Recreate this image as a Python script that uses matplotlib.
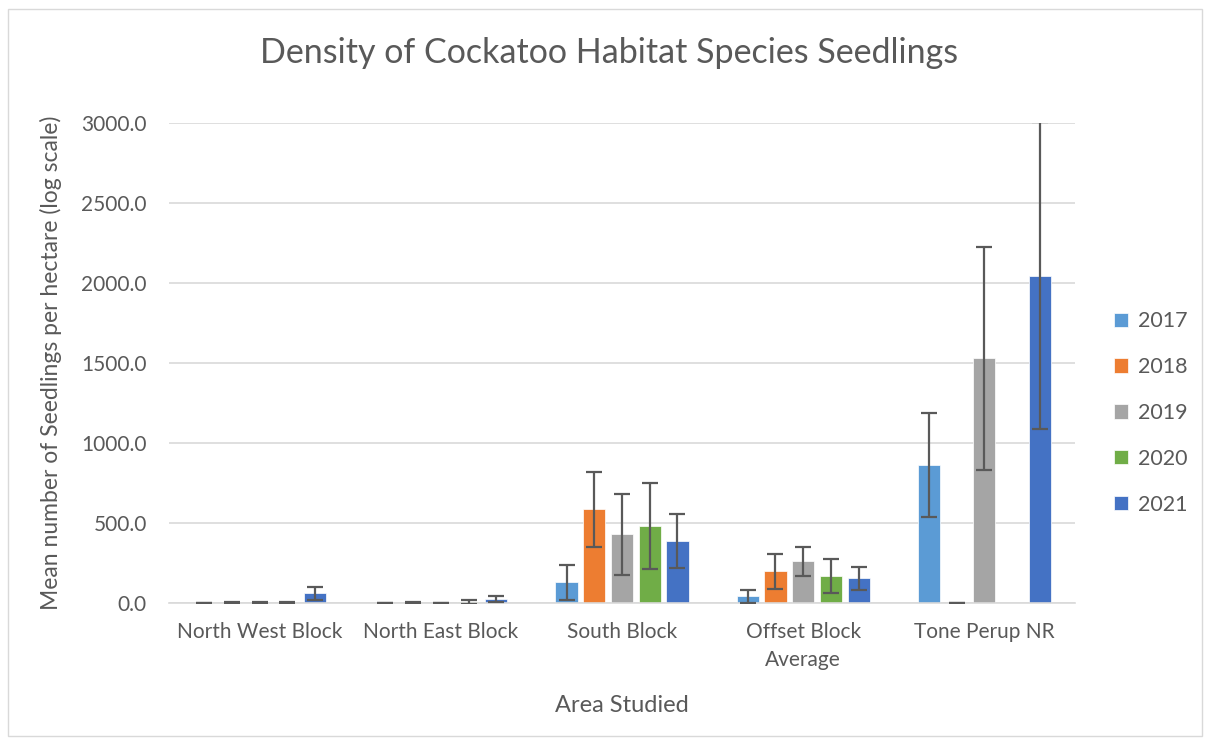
import numpy as np
import matplotlib.pyplot as plt
from matplotlib.patches import Rectangle

plt.rcParams['font.family'] = ['Lato', 'DejaVu Sans']

areas = ['North West Block', 'North East Block', 'South Block', 'Offset Block\nAverage', 'Tone Perup NR']
years = ['2017', '2018', '2019', '2020', '2021']

means = {
    '2017': [0, 0, 129, 42, 862],
    '2018': [0, 0, 585, 198, 0],
    '2019': [0, 0, 429, 260, 1529],
    '2020': [0, 5, 481, 167, 0],
    '2021': [60, 23, 385, 156, 2046],
}
errs = {
    '2017': [0, 0, 110, 40, 326],
    '2018': [8, 8, 233, 108, 0],
    '2019': [8, 0, 253, 90, 697],
    '2020': [8, 14, 270, 105, 0],
    '2021': [43, 18, 169, 72, 960],
}
# no bar / no error bar drawn where a series has no data
has_data = {
    '2017': [True, True, True, True, True],
    '2018': [True, True, True, True, True],
    '2019': [True, True, True, True, True],
    '2020': [True, True, True, True, False],
    '2021': [True, True, True, True, True],
}
colors = ['#5B9BD5', '#ED7D31', '#A5A5A5', '#70AD47', '#4472C4']
text_col = '#595959'

fig = plt.figure(figsize=(12.1, 7.44), dpi=100)
ax = fig.add_axes([169 / 1210, 1 - 603 / 744, (1075 - 169) / 1210, 480 / 744])
fig.patches.append(Rectangle((8 / 1210, 8 / 744), 1194 / 1210, 727 / 744, transform=fig.transFigure,
                             fill=False, edgecolor='#d9d9d9', linewidth=1))

x = np.arange(len(areas))
step = 0.153
width = 0.122
for i, yr in enumerate(years):
    pos = x + (i - 2) * step
    vals = np.array(means[yr], dtype=float)
    e = np.array(errs[yr], dtype=float)
    mask = np.array(has_data[yr])
    ax.bar(pos[mask], vals[mask], width, color=colors[i], label=yr, zorder=2,
           edgecolor='white', linewidth=0.5)
    ax.errorbar(pos[mask], vals[mask], yerr=e[mask], fmt='none', ecolor='#595959',
                elinewidth=1.6, capsize=5.5, capthick=1.6, zorder=3)

ax.set_xlim(-0.5, len(areas) - 0.5)
ax.set_ylim(0, 3000)
ax.set_yticks(np.arange(0, 3001, 500))
ax.set_yticklabels([f'{v:.1f}' for v in np.arange(0, 3001, 500)])
ax.set_xticks(x)
ax.set_xticklabels(areas, linespacing=1.45)
ax.yaxis.grid(True, color='#d9d9d9', linewidth=1.2, zorder=0)
ax.set_axisbelow(True)
for s in ['top', 'right', 'left']:
    ax.spines[s].set_visible(False)
ax.spines['bottom'].set_color('#d9d9d9')
ax.spines['bottom'].set_linewidth(1.2)
ax.tick_params(axis='both', length=0, labelsize=15, colors=text_col)
ax.tick_params(axis='y', pad=16)
ax.tick_params(axis='x', pad=14)

ax.set_xlabel('Area Studied', fontsize=17, color=text_col, labelpad=18)
ax.set_ylabel('Mean number of Seedlings per hectare (log scale)', fontsize=16.5, color=text_col, labelpad=14)
fig.text(609 / 1210, 1 - 53 / 744, 'Density of Cockatoo Habitat Species Seedlings',
         fontsize=24.5, color=text_col, ha='center', va='center')

leg = ax.legend(loc='center left', bbox_to_anchor=(1.022, 0.396), frameon=False,
                fontsize=15.5, labelspacing=1.2, handlelength=0.65, handleheight=0.65,
                handletextpad=0.45)
for t in leg.get_texts():
    t.set_color(text_col)

fig.savefig('out.png', dpi=100)
